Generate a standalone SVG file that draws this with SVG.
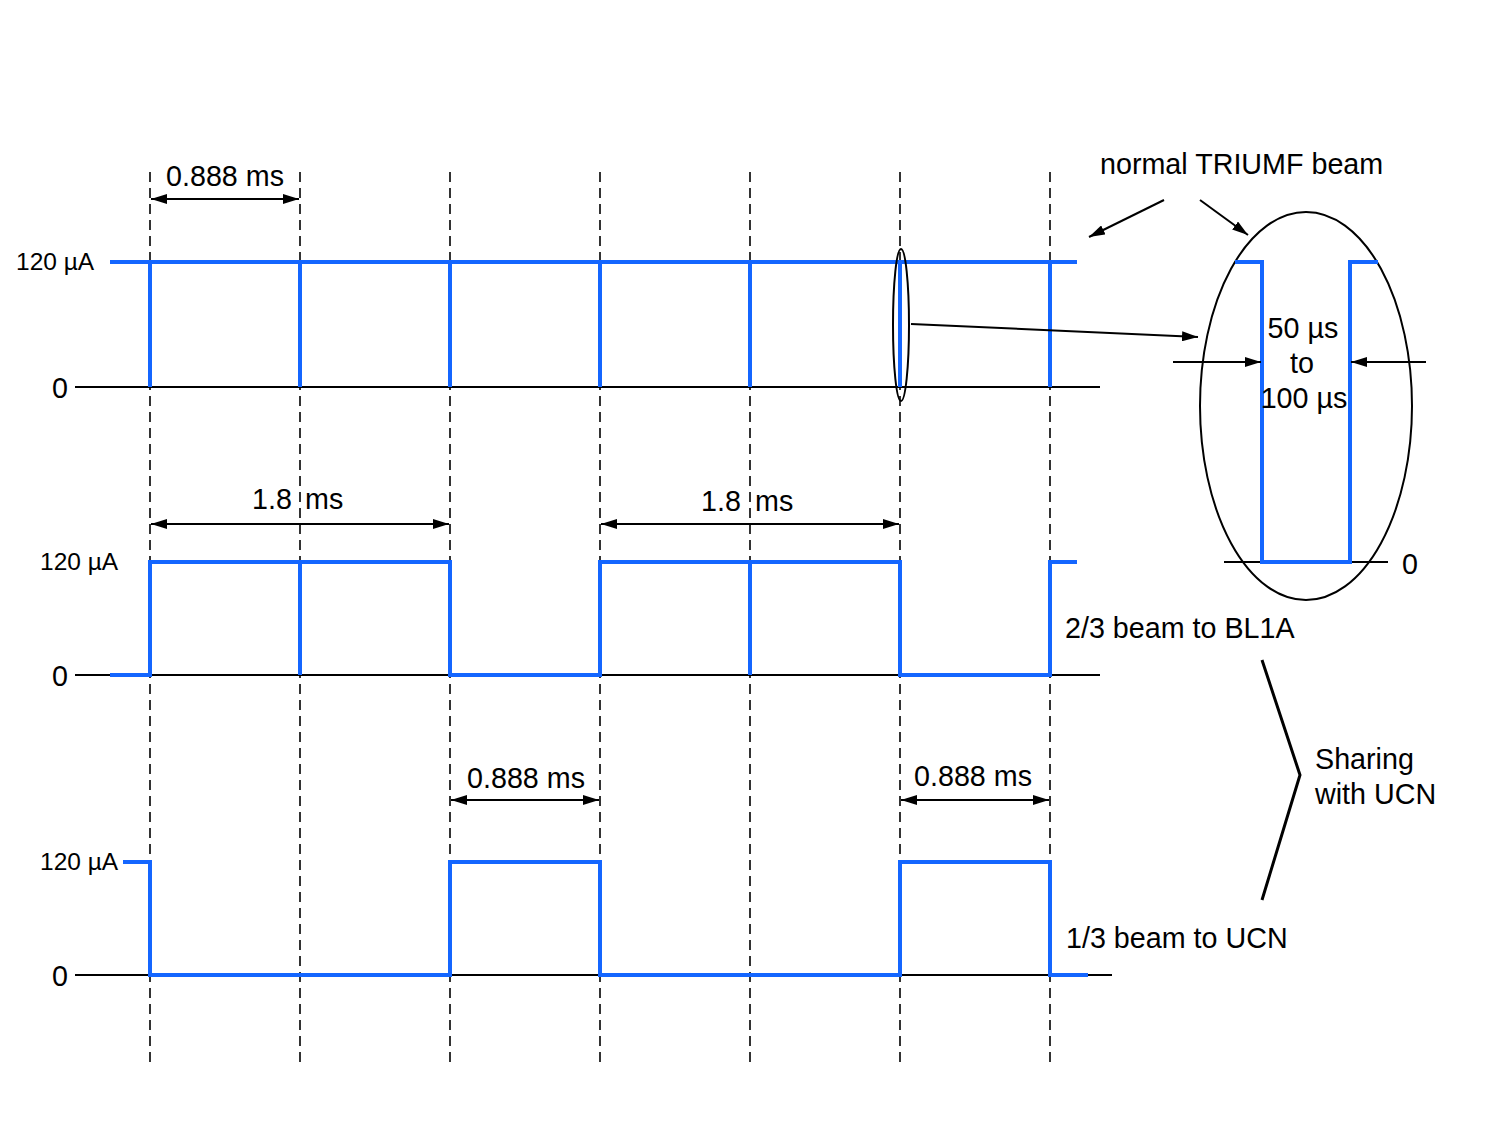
<svg xmlns="http://www.w3.org/2000/svg" width="1500" height="1125" viewBox="0 0 1500 1125">
<style>
text{font-family:"Liberation Sans",Arial,sans-serif;fill:#000}
.t{font-size:28.7px}
.s{font-size:24.5px}
.blue{fill:none;stroke:#1466ff;stroke-width:4;stroke-linejoin:miter;stroke-linecap:butt}
.axis{stroke:#000;stroke-width:2;fill:none}
.dash{stroke:#000;stroke-width:1.6;stroke-dasharray:10,6;fill:none}
.arr{stroke:#000;stroke-width:2;fill:none}
</style>
<defs>
<marker id="ah" viewBox="0 0 16 10" refX="16" refY="5" markerWidth="16" markerHeight="10" markerUnits="userSpaceOnUse" orient="auto-start-reverse">
<path d="M0,0 L16,5 L0,10 z" fill="#000"/>
</marker>
</defs>
<rect width="1500" height="1125" fill="#fff"/>

<g id="gridlines">
<line class="dash" x1="150" y1="172" x2="150" y2="1062"/>
<line class="dash" x1="300" y1="172" x2="300" y2="1062"/>
<line class="dash" x1="450" y1="172" x2="450" y2="1062"/>
<line class="dash" x1="600" y1="172" x2="600" y2="1062"/>
<line class="dash" x1="750" y1="172" x2="750" y2="1062"/>
<line class="dash" x1="900" y1="172" x2="900" y2="1062"/>
<line class="dash" x1="1050" y1="172" x2="1050" y2="1062"/>
</g>

<g id="row1">
<line class="axis" x1="75" y1="387" x2="1100" y2="387"/>
<path class="blue" d="M110,262 H1077 M150,262 V387 M300,262 V387 M450,262 V387 M600,262 V387 M750,262 V387 M900,262 V387 M1050,262 V387"/>
<text class="s" x="16" y="270">120 µA</text>
<text class="t" x="52" y="398">0</text>
</g>

<g id="row2">
<line class="axis" x1="75" y1="675" x2="1100" y2="675"/>
<path class="blue" d="M110,675 H150 V562 H450 V675 H600 V562 H900 V675 H1050 V562 H1077 M300,562 V675 M750,562 V675"/>
<text class="s" x="40" y="570">120 µA</text>
<text class="t" x="52" y="686">0</text>
<text class="t" x="1065" y="638">2/3 beam to BL1A</text>
</g>

<g id="row3">
<line class="axis" x1="75" y1="975" x2="1112" y2="975"/>
<path class="blue" d="M123,862 H150 V975 H450 V862 H600 V975 H900 V862 H1050 V975 H1088"/>
<text class="s" x="40" y="870">120 µA</text>
<text class="t" x="52" y="986">0</text>
<text class="t" x="1066" y="948">1/3 beam to UCN</text>
</g>

<g id="inset">
<ellipse cx="1306" cy="406" rx="106" ry="194" fill="none" stroke="#000" stroke-width="2"/>
<line class="axis" x1="1224" y1="562" x2="1388" y2="562"/>
<path class="blue" d="M1235,262 H1262 V562 H1350 V262 H1378"/>
<text class="t" x="1303" y="338" text-anchor="middle">50 µs</text>
<text class="t" x="1302" y="373" text-anchor="middle">to</text>
<text class="t" x="1304" y="408" text-anchor="middle">100 µs</text>
<text class="t" x="1402" y="574">0</text>
</g>

<g id="labels">
<text class="t" x="1100" y="174">normal TRIUMF beam</text>
<text class="t" x="1315" y="769">Sharing</text>
<text class="t" x="1315" y="804">with UCN</text>
<text class="t" x="225" y="186" text-anchor="middle">0.888 ms</text>
<text class="t" x="252" y="509">1.8<tspan x="305">ms</tspan></text>
<text class="t" x="701" y="511">1.8<tspan x="755">ms</tspan></text>
<text class="t" x="526" y="788" text-anchor="middle">0.888 ms</text>
<text class="t" x="973" y="786" text-anchor="middle">0.888 ms</text>
</g>

<g id="connectors">
<line class="arr" x1="151" y1="199" x2="299" y2="199" marker-start="url(#ah)" marker-end="url(#ah)"/>
<line class="arr" x1="151" y1="524" x2="449" y2="524" marker-start="url(#ah)" marker-end="url(#ah)"/>
<line class="arr" x1="601" y1="524" x2="899" y2="524" marker-start="url(#ah)" marker-end="url(#ah)"/>
<line class="arr" x1="451" y1="800" x2="599" y2="800" marker-start="url(#ah)" marker-end="url(#ah)"/>
<line class="arr" x1="901" y1="800" x2="1049" y2="800" marker-start="url(#ah)" marker-end="url(#ah)"/>
<ellipse cx="901" cy="325" rx="8" ry="76" fill="none" stroke="#000" stroke-width="2"/>
<line class="arr" x1="911" y1="324" x2="1198" y2="337" marker-end="url(#ah)"/>
<line class="arr" x1="1164" y1="200" x2="1089" y2="237" marker-end="url(#ah)"/>
<line class="arr" x1="1200" y1="200" x2="1248" y2="235" marker-end="url(#ah)"/>
<line class="arr" x1="1173" y1="362" x2="1261" y2="362" marker-end="url(#ah)"/>
<line class="arr" x1="1426" y1="362" x2="1351" y2="362" marker-end="url(#ah)"/>
<polyline points="1262,660 1300,775 1262,900" fill="none" stroke="#000" stroke-width="3"/>
</g>
</svg>
